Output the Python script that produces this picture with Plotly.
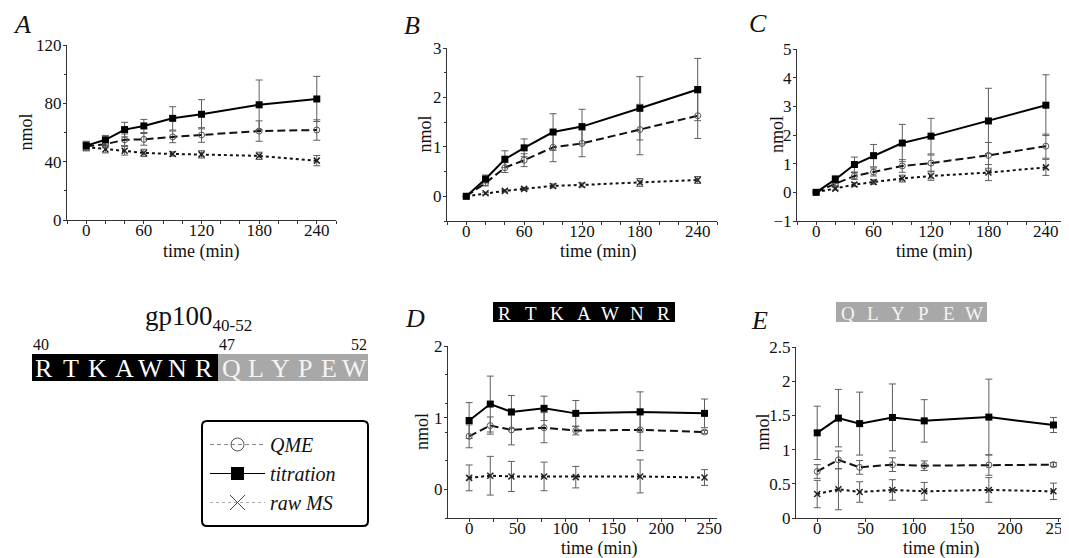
import plotly.graph_objects as go

W, H = 1069, 558
OFF = 8            # browser body margin of the generated page
FW, FH = W - OFF, H - OFF

# ---------------- data ----------------
t_abc = [0, 20, 40, 60, 90, 120, 180, 240]
t_de = [0, 22, 44, 78, 111, 178, 245]

a_tit = [51, 55, 62, 64.5, 69.7, 72.5, 79, 83]
a_tit_err = [3, 3, 5, 4.5, 8, 10, 17, 15.5]
a_qme = [50.5, 52, 55, 55.3, 57, 58.3, 61, 61.7]
a_qme_err = [3, 2.5, 4, 4, 4, 5, 7, 7]
a_raw = [50, 48.5, 47.5, 46, 45.3, 45, 44, 40.7]
a_raw_err = [2.5, 2.5, 3, 2.5, 1.5, 2.5, 2.5, 3.5]

b_tit = [0, 0.35, 0.75, 0.98, 1.30, 1.41, 1.78, 2.16]
b_tit_err = [0.02, 0.08, 0.17, 0.18, 0.37, 0.35, 0.64, 0.63]
b_qme = [0, 0.27, 0.58, 0.73, 0.99, 1.07, 1.35, 1.63]
b_qme_err = [0.02, 0.06, 0.1, 0.13, 0.29, 0.27, 0.51, 0.46]
b_raw = [0, 0.06, 0.11, 0.15, 0.21, 0.23, 0.28, 0.33]
b_raw_err = [0.01, 0.02, 0.02, 0.03, 0.04, 0.04, 0.08, 0.07]

c_tit = [0, 0.45, 0.97, 1.28, 1.72, 1.96, 2.49, 3.04]
c_tit_err = [0.05, 0.14, 0.26, 0.39, 0.65, 0.62, 1.14, 1.06]
c_qme = [0, 0.30, 0.57, 0.71, 0.92, 1.02, 1.29, 1.61]
c_qme_err = [0.03, 0.06, 0.12, 0.14, 0.22, 0.28, 0.45, 0.42]
c_raw = [0, 0.13, 0.27, 0.36, 0.48, 0.57, 0.69, 0.87]
c_raw_err = [0.02, 0.05, 0.07, 0.08, 0.12, 0.15, 0.28, 0.28]

d_tit = [0.96, 1.19, 1.08, 1.13, 1.06, 1.08, 1.06]
d_tit_err = [0.25, 0.39, 0.23, 0.17, 0.18, 0.28, 0.2]
d_qme = [0.74, 0.89, 0.83, 0.86, 0.82, 0.83, 0.80]
d_qme_err = [0.16, 0.12, 0.21, 0.21, 0.06, 0.29, 0.02]
d_raw = [0.16, 0.19, 0.18, 0.18, 0.17, 0.18, 0.165]
d_raw_err = [0.18, 0.27, 0.21, 0.2, 0.15, 0.23, 0.11]

e_tit = [1.245, 1.46, 1.38, 1.47, 1.42, 1.475, 1.36]
e_tit_err = [0.39, 0.42, 0.46, 0.49, 0.31, 0.555, 0.11]
e_qme = [0.68, 0.85, 0.74, 0.78, 0.765, 0.775, 0.78]
e_qme_err = [0.1, 0.13, 0.1, 0.1, 0.07, 0.15, 0.03]
e_raw = [0.35, 0.42, 0.38, 0.41, 0.39, 0.41, 0.39]
e_raw_err = [0.2, 0.3, 0.15, 0.15, 0.13, 0.18, 0.12]

series_names = ["QME", "titration", "raw MS"]
seq_full_dark = "RTKAWNR"
seq_full_light = "QLYPEW"
seq_numbers = ["40", "47", "52"]

FONT = "Liberation Serif"


# ---------------- layout helpers (reference pixel -> paper fraction) ----------------
def px_x(p):
    return (p - OFF) / FW


def px_y(p):
    return 1 - (p - OFF) / FH


panels = [
    dict(letter="A", t=t_abc, tit=a_tit, tite=a_tit_err, qme=a_qme, qmee=a_qme_err, raw=a_raw, rawe=a_raw_err,
         box=(67, 336, 45, 220), xr=[-20, 260], yr=[0, 120], xd=60, xm=20, yd=40, ym=20,
         letter_pos=(22, 25), ytitle_x=26, xtitle=(201, 252)),
    dict(letter="B", t=t_abc, tit=b_tit, tite=b_tit_err, qme=b_qme, qmee=b_qme_err, raw=b_raw, rawe=b_raw_err,
         box=(447, 717, 48, 221), xr=[-20, 260], yr=[-0.5, 3], xd=60, xm=20, yd=1, ym=0.5,
         letter_pos=(412, 26), ytitle_x=425, xtitle=(598, 252)),
    dict(letter="C", t=t_abc, tit=c_tit, tite=c_tit_err, qme=c_qme, qmee=c_qme_err, raw=c_raw, rawe=c_raw_err,
         box=(797, 1065, 49, 221), xr=[-20, 260], yr=[-1, 5], xd=60, xm=20, yd=1, ym=None,
         letter_pos=(758, 24), ytitle_x=777, xtitle=(934, 252)),
    dict(letter="D", t=t_de, tit=d_tit, tite=d_tit_err, qme=d_qme, qmee=d_qme_err, raw=d_raw, rawe=d_raw_err,
         box=(448, 717, 346, 518), xr=[-22, 258], yr=[-0.4, 2], xd=50, xm=25, yd=1, ym=0.4,
         letter_pos=(415, 318), ytitle_x=422, xtitle=(599, 548)),
    dict(letter="E", t=t_de, tit=e_tit, tite=e_tit_err, qme=e_qme, qmee=e_qme_err, raw=e_raw, rawe=e_raw_err,
         box=(796, 1066, 347, 518), xr=[-22, 258], yr=[0, 2.5], xd=50, xm=None, yd=0.5, ym=None,
         letter_pos=(759, 320), ytitle_x=762, xtitle=(941, 548)),
]

ERR_COLOR = "#5e5e5e"
AX_COLOR = "#333"

fig = go.Figure()
layout = dict(
    width=FW, height=FH,
    margin=dict(l=0, r=0, t=0, b=0),
    paper_bgcolor="white", plot_bgcolor="white",
    font=dict(family=FONT, color="#111"),
    showlegend=True,
)
annotations = []
shapes = []

for i, p in enumerate(panels):
    n = i + 1
    xa = "x" if n == 1 else f"x{n}"
    ya = "y" if n == 1 else f"y{n}"
    common = dict(xaxis=xa, yaxis=ya, showlegend=False, hoverinfo="skip")
    fig.add_trace(go.Scatter(
        x=p["t"], y=p["raw"], mode="lines+markers",
        line=dict(color="#111", width=2, dash="3px,3px"),
        marker=dict(symbol="x-thin-open", size=6, color="#222", line=dict(width=1.5, color="#222")),
        error_y=dict(type="data", array=p["rawe"], color=ERR_COLOR, thickness=1, width=3.5),
        name="raw MS", **common))
    fig.add_trace(go.Scatter(
        x=p["t"], y=p["qme"], mode="lines+markers",
        line=dict(color="#111", width=2, dash="8px,4px"),
        marker=dict(symbol="circle-open", size=6, color="#555", line=dict(width=1, color="#555")),
        error_y=dict(type="data", array=p["qmee"], color=ERR_COLOR, thickness=1, width=3.5),
        name="QME", **common))
    fig.add_trace(go.Scatter(
        x=p["t"], y=p["tit"], mode="lines+markers",
        line=dict(color="#000", width=2),
        marker=dict(symbol="square", size=7, color="#000"),
        error_y=dict(type="data", array=p["tite"], color=ERR_COLOR, thickness=1, width=3.5),
        name="titration", **common))

    l, r, t, b = p["box"]
    xkey = "xaxis" if n == 1 else f"xaxis{n}"
    ykey = "yaxis" if n == 1 else f"yaxis{n}"
    xax = dict(domain=[px_x(l), px_x(r)], range=p["xr"], anchor=ya,
               showline=True, linecolor=AX_COLOR, linewidth=1, showgrid=False, zeroline=False,
               ticks="outside", ticklen=3, tickcolor=AX_COLOR, dtick=p["xd"], tick0=0,
               ticklabelstandoff=-8, ticklabeloverflow="allow",
               tickfont=dict(family=FONT, size=17, color="#111"), automargin=False)
    if p["xm"]:
        xax["minor"] = dict(dtick=p["xm"], tick0=0, ticks="outside", ticklen=3, tickcolor=AX_COLOR)
    yax = dict(domain=[px_y(b), px_y(t)], range=p["yr"], anchor=xa,
               showline=True, linecolor=AX_COLOR, linewidth=1, showgrid=False, zeroline=False,
               ticks="outside", ticklen=3, tickcolor=AX_COLOR, dtick=p["yd"], tick0=0,
               ticklabelstandoff=-2, ticklabeloverflow="allow",
               tickfont=dict(family=FONT, size=17, color="#111"), automargin=False)
    if p["ym"]:
        yax["minor"] = dict(dtick=p["ym"], tick0=0, ticks="outside", ticklen=2, tickcolor=AX_COLOR)
    layout[xkey] = xax
    layout[ykey] = yax

    annotations.append(dict(text=f"<i>{p['letter']}</i>", x=px_x(p["letter_pos"][0]), y=px_y(p["letter_pos"][1]),
                            xref="paper", yref="paper", showarrow=False,
                            font=dict(family=FONT, size=26, color="#111"), xanchor="center", yanchor="middle"))
    annotations.append(dict(text="nmol", x=px_x(p["ytitle_x"]), y=px_y((t + b) / 2), textangle=-90,
                            xref="paper", yref="paper", showarrow=False,
                            font=dict(family=FONT, size=18, color="#111"), xanchor="center", yanchor="middle"))
    annotations.append(dict(text="time (min)", x=px_x(p["xtitle"][0]), y=px_y(p["xtitle"][1]),
                            xref="paper", yref="paper", showarrow=False,
                            font=dict(family=FONT, size=18, color="#111"), xanchor="center", yanchor="middle"))


def letter_block(letters, x0, x1, y0, y1, fill, txtcol, size, first_center, pitch):
    shapes.append(dict(type="rect", xref="paper", yref="paper", x0=px_x(x0), x1=px_x(x1),
                       y0=px_y(y1), y1=px_y(y0), fillcolor=fill, line=dict(width=0), layer="above"))
    for k, ch in enumerate(letters):
        annotations.append(dict(text=ch, x=px_x(first_center + k * pitch), y=px_y((y0 + y1) / 2 + 1),
                                xref="paper", yref="paper", showarrow=False,
                                font=dict(family=FONT, size=size, color=txtcol),
                                xanchor="center", yanchor="middle"))


# gp100 full sequence block
letter_block(seq_full_dark, 32, 218, 354, 381, "#000", "white", 26, 44, 26.7)
letter_block(seq_full_light, 218, 368, 354, 381, "#a8a8a8", "#f4f4f4", 26, 231, 24.6)
for txt, xc in zip(seq_numbers, [41, 227, 359]):
    annotations.append(dict(text=txt, x=px_x(xc), y=px_y(344), xref="paper", yref="paper", showarrow=False,
                            font=dict(family=FONT, size=16, color="#111"), xanchor="center", yanchor="middle"))
annotations.append(dict(text="gp100<sub><span style='font-size:17px'>40-52</span></sub>",
                        x=px_x(198), y=px_y(318), xref="paper", yref="paper", showarrow=False,
                        font=dict(family=FONT, size=27, color="#111"), xanchor="center", yanchor="middle"))

# panel titles D and E
letter_block(seq_full_dark, 493, 675, 302, 322, "#000", "white", 19, 504, 26.5)
letter_block(seq_full_light, 836, 987, 302, 322, "#a8a8a8", "#f4f4f4", 19, 848, 25.2)

# legend box (rounded)
lx0, lx1, ly0, ly1, rr = 202, 368, 421, 526, 5
path = (f"M {px_x(lx0 + rr)},{px_y(ly0)} L {px_x(lx1 - rr)},{px_y(ly0)} "
        f"Q {px_x(lx1)},{px_y(ly0)} {px_x(lx1)},{px_y(ly0 + rr)} L {px_x(lx1)},{px_y(ly1 - rr)} "
        f"Q {px_x(lx1)},{px_y(ly1)} {px_x(lx1 - rr)},{px_y(ly1)} L {px_x(lx0 + rr)},{px_y(ly1)} "
        f"Q {px_x(lx0)},{px_y(ly1)} {px_x(lx0)},{px_y(ly1 - rr)} L {px_x(lx0)},{px_y(ly0 + rr)} "
        f"Q {px_x(lx0)},{px_y(ly0)} {px_x(lx0 + rr)},{px_y(ly0)} Z")
shapes.append(dict(type="path", path=path, xref="paper", yref="paper", line=dict(color="#000", width=2)))

# legend-only traces
fig.add_trace(go.Scatter(x=[None], y=[None], mode="lines+markers", name=f"<i>{series_names[0]}</i>",
                         line=dict(color="#888", width=1, dash="4px,3px"),
                         marker=dict(symbol="circle-open", size=13, color="#555", line=dict(width=1, color="#555"))))
fig.add_trace(go.Scatter(x=[None], y=[None], mode="lines+markers", name=f"<i>{series_names[1]}</i>",
                         line=dict(color="#000", width=1),
                         marker=dict(symbol="square", size=13, color="#000")))
fig.add_trace(go.Scatter(x=[None], y=[None], mode="lines+markers", name=f"<i>{series_names[2]}</i>",
                         line=dict(color="#aaa", width=1, dash="3px,3px"),
                         marker=dict(symbol="x-thin-open", size=15, color="#444", line=dict(width=1, color="#444"))))

layout["legend"] = dict(x=px_x(lx0 + 3), y=px_y(ly0 + 4), xanchor="left", yanchor="top",
                        bgcolor="rgba(0,0,0,0)", borderwidth=0, itemwidth=55,
                        font=dict(family=FONT, size=20, color="#111"), tracegroupgap=0)
layout["annotations"] = annotations
layout["shapes"] = shapes
fig.update_layout(**layout)

fig.write_html("out.html")
